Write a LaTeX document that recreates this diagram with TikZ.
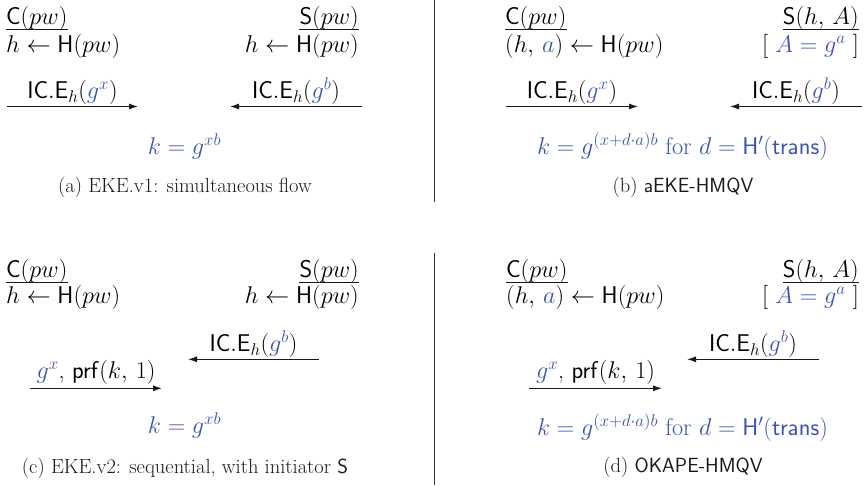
\RequirePackage{fix-cm}
\documentclass[tikz,border=0pt]{standalone}
\usetikzlibrary{arrows.meta}
\definecolor{kblue}{RGB}{58,84,176}
\newcommand\mainsize{\fontsize{24.2}{29}\selectfont}
\newcommand\capsize{\fontsize{20.5}{24}\selectfont}
\newcommand\bl[1]{{\color{kblue}#1}}
\tikzset{
  txt/.style={inner sep=0pt, font=\mainsize, text=black},
  captxt/.style={inner sep=0pt, font=\capsize, anchor=base, text=black!90},
  msg/.style={line width=1pt, draw=black!90, -{Latex[length=9pt,width=6pt]}},
  lbl/.style={midway, anchor=base, yshift=8pt, inner sep=0pt, font=\mainsize, text=black},
  urule/.style={line width=0.8pt, draw=black!90},
  sep/.style={line width=1pt, draw=black!80},
}
\begin{document}
\begin{tikzpicture}[x=1pt,y=-1pt]
\useasboundingbox (0,0) rectangle (867,486);
% separators
\coordinate (v1t) at (434,0); \coordinate (v1b) at (434,202);
\coordinate (v2t) at (434,253); \coordinate (v2b) at (434,485);
\draw[sep] (v1t) -- (v1b);
\draw[sep] (v2t) -- (v2b);

% ---------- panel (a)
\node[txt, anchor=base west] (aC) at (6,25) {$\mathsf{C}(pw)$};
\node[txt, anchor=base west] (aCh) at (6,52.7) {$h \leftarrow \mathsf{H}(pw)$};
\node[txt, anchor=base east] (aS) at (359,25) {$\mathsf{S}(pw)$};
\node[txt, anchor=base east] (aSh) at (359,52.7) {$h \leftarrow \mathsf{H}(pw)$};
\draw[urule] ([yshift=-4.5pt]aC.base west) -- ([yshift=-4.5pt]aC.base east);
\draw[urule] ([yshift=-4.5pt]aS.base west) -- ([yshift=-4.5pt]aS.base east);
\coordinate (a1s) at (7,106.5); \coordinate (a1e) at (138,106.5);
\draw[msg] (a1s) -- node[lbl] (a1l) {$\mathsf{IC}.\mathsf{E}_h(\bl{g^x})$} (a1e);
\coordinate (a2s) at (362,106.5); \coordinate (a2e) at (230,106.5);
\draw[msg] (a2s) -- node[lbl] (a2l) {$\mathsf{IC}.\mathsf{E}_h(\bl{g^b})$} (a2e);
\node[txt, anchor=base] (ak) at (184.5,154.5) {\color{kblue}$k = g^{xb}$};
\node[captxt] (acap) at (185,193) {(a) EKE.v1: simultaneous flow};

% ---------- panel (b)
\node[txt, anchor=base west] (bC) at (505,25) {$\mathsf{C}(pw)$};
\node[txt, anchor=base west] (bCh) at (505,52.7) {$(h,\,\bl{a}) \leftarrow \mathsf{H}(pw)$};
\node[txt, anchor=base east] (bS) at (859,25) {$\mathsf{S}(h,\,A)$};
\node[txt, anchor=base east] (bSh) at (859,52.7) {$[\ \bl{A = g^a}\ ]$};
\draw[urule] ([yshift=-4.5pt]bC.base west) -- ([yshift=-4.5pt]bC.base east);
\draw[urule] ([yshift=-4.5pt]bS.base west) -- ([yshift=-4.5pt]bS.base east);
\coordinate (b1s) at (506,106.5); \coordinate (b1e) at (638,106.5);
\draw[msg] (b1s) -- node[lbl] (b1l) {$\mathsf{IC}.\mathsf{E}_h(\bl{g^x})$} (b1e);
\coordinate (b2s) at (862,106.5); \coordinate (b2e) at (730,106.5);
\draw[msg] (b2s) -- node[lbl] (b2l) {$\mathsf{IC}.\mathsf{E}_h(\bl{g^b})$} (b2e);
\node[txt, anchor=base] (bk) at (682.5,154.5) {\color{kblue}$k = g^{(x+d\cdot a)b}$ for $d = \mathsf{H}'(\mathsf{trans})$};
\node[captxt] (bcap) at (683,193) {(b) \textsf{aEKE-HMQV}};

% ---------- panel (c)
\node[txt, anchor=base west] (cC) at (6,277.3) {$\mathsf{C}(pw)$};
\node[txt, anchor=base west] (cCh) at (6,303.3) {$h \leftarrow \mathsf{H}(pw)$};
\node[txt, anchor=base east] (cS) at (359,277.3) {$\mathsf{S}(pw)$};
\node[txt, anchor=base east] (cSh) at (359,303.3) {$h \leftarrow \mathsf{H}(pw)$};
\draw[urule] ([yshift=-5.3pt]cC.base west) -- ([yshift=-5.3pt]cC.base east);
\draw[urule] ([yshift=-5.3pt]cS.base west) -- ([yshift=-5.3pt]cS.base east);
\coordinate (c1s) at (319,359.3); \coordinate (c1e) at (188,359.3);
\draw[msg] (c1s) -- node[lbl, yshift=-0.4pt] (c1l) {$\mathsf{IC}.\mathsf{E}_h(\bl{g^b})$} (c1e);
\coordinate (c2s) at (30,388.3); \coordinate (c2e) at (162,388.3);
\draw[msg] (c2s) -- node[lbl, yshift=2pt] (c2l) {$\bl{g^x}$, $\mathsf{prf}(k,\,1)$} (c2e);
\node[txt, anchor=base] (ck) at (184.5,433.3) {\color{kblue}$k = g^{xb}$};
\node[captxt] (ccap) at (185,473.3) {(c) EKE.v2: sequential, with initiator \textsf{S}};

% ---------- panel (d)
\node[txt, anchor=base west] (dC) at (506,277.3) {$\mathsf{C}(pw)$};
\node[txt, anchor=base west] (dCh) at (506,303.3) {$(h,\,\bl{a}) \leftarrow \mathsf{H}(pw)$};
\node[txt, anchor=base east] (dS) at (859,277.3) {$\mathsf{S}(h,\,A)$};
\node[txt, anchor=base east] (dSh) at (859,303.3) {$[\ \bl{A = g^a}\ ]$};
\draw[urule] ([yshift=-5pt]dC.base west) -- ([yshift=-5pt]dC.base east);
\draw[urule] ([yshift=-5pt]dS.base west) -- ([yshift=-5pt]dS.base east);
\coordinate (d1s) at (819,359.3); \coordinate (d1e) at (687,359.3);
\draw[msg] (d1s) -- node[lbl, yshift=-0.4pt] (d1l) {$\mathsf{IC}.\mathsf{E}_h(\bl{g^b})$} (d1e);
\coordinate (d2s) at (529,388.3); \coordinate (d2e) at (662,388.3);
\draw[msg] (d2s) -- node[lbl, yshift=2pt] (d2l) {$\bl{g^x}$, $\mathsf{prf}(k,\,1)$} (d2e);
\node[txt, anchor=base] (dk) at (682.5,435) {\color{kblue}$k = g^{(x+d\cdot a)b}$ for $d = \mathsf{H}'(\mathsf{trans})$};
\node[captxt] (dcap) at (683,472) {(d) \textsf{OKAPE-HMQV}};
\end{tikzpicture}
\end{document}
